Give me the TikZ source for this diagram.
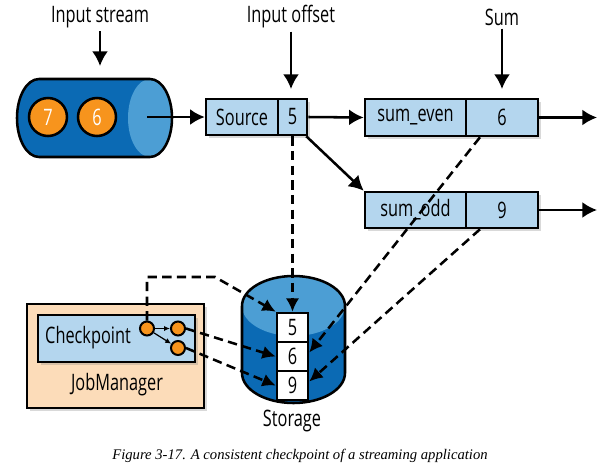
\documentclass[tikz,border=0pt]{standalone}
\usepackage{fontspec}
\setmainfont{Open Sans}[FakeStretch=0.72]
\newfontfamily\capfont{Liberation Serif}
\usetikzlibrary{arrows.meta,shadows,calc}
\definecolor{dblue}{HTML}{0B6AB4}
\definecolor{lblue}{HTML}{4C9ED4}
\definecolor{boxblue}{HTML}{B4D6EE}
\definecolor{orng}{HTML}{F7941D}
\definecolor{peach}{HTML}{FCDCB9}
\begin{document}
\begin{tikzpicture}[x=0.75pt,y=-0.75pt,
  txt/.style={font=\fontsize{17}{20}\selectfont, inner sep=0pt},
  shd/.style={drop shadow={shadow xshift=2pt, shadow yshift=-2pt, opacity=0.3}},
  bx/.style={draw=black, line width=1.9pt, fill=boxblue, inner sep=0pt, font=\fontsize{17}{20}\selectfont, shd},
  stk/.style={draw=black, line width=1.9pt, fill=white, inner sep=0pt, font=\fontsize{17}{20}\selectfont, minimum width=23.25pt, minimum height=21.75pt},
  ball/.style={circle, draw=black, line width=1.9pt, fill=orng, inner sep=0pt, minimum size=28.5pt, text=white, font=\fontsize{17}{20}\selectfont},
  dot/.style={circle, draw=black, line width=1.5pt, fill=orng, inner sep=0pt, minimum size=10.5pt},
  arr/.style={line width=1.9pt, -{Latex[length=11pt,width=12pt]}},
  darr/.style={line width=1.9pt, dash pattern=on 7pt off 4pt, -{Latex[length=10pt,width=10pt]}},
  small/.style={line width=0.9pt, -{Latex[length=4.5pt,width=4pt]}}
]
\useasboundingbox (0,0) rectangle (601,465);

% labels
\node[txt] (lstream) at (100,17) {Input stream};
\node[txt] (loffset) at (291,17) {Input offset};
\node[txt] (lsum) at (502,17) {Sum};
\coordinate (tstream) at (100,66);
\coordinate (toffset) at (291,89);
\coordinate (tsum) at (502,89);
\draw[arr] ($(lstream.south)+(0,3)$) -- (tstream);
\draw[arr] ($(loffset.south)+(0,3)$) -- (toffset);
\draw[arr] ($(lsum.south)+(0,3)$) -- (tsum);

% input stream cylinder
\fill[dblue] (39,79) -- (150,79) -- (150,157) -- (39,157) arc[start angle=90, end angle=270, x radius=22, y radius=39] -- cycle;
\fill[lblue] (150,118) ellipse[x radius=22, y radius=39];
\draw[line width=1.9pt] (39,79) -- (150,79) arc[start angle=-90, end angle=90, x radius=22, y radius=39] -- (39,157) arc[start angle=90, end angle=270, x radius=22, y radius=39] -- cycle;
\node[ball] (b7) at (48,117) {7};
\node[ball] (b6) at (97,117) {6};
\coordinate (cylout) at (147,117);

% operator boxes
\node[bx, minimum width=54pt, minimum height=27pt] (src) at (242,117) {Source};
\node[bx, minimum width=21.75pt, minimum height=27pt] (srcv) at (292.5,117) {5};
\node[bx, minimum width=75.75pt, minimum height=27.75pt] (even) at (415.5,117.5) {sum\_even};
\node[bx, minimum width=54pt, minimum height=27.75pt] (evenv) at (502,117.5) {6};
\node[bx, minimum width=75.75pt, minimum height=27pt] (odd) at (415.5,210) {sum\_odd};
\node[bx, minimum width=54pt, minimum height=27pt] (oddv) at (502,210) {9};
\coordinate (evenout) at (597,117.5);
\coordinate (oddout) at (597,210);

\draw[arr] (cylout) -- (src.west);
\draw[arr] (srcv.east) -- (even.west);
\draw[arr] (evenv.east) -- (evenout);
\draw[arr] (oddv.east) -- (oddout);
\draw[arr] ($(srcv.south east)+(-2,0)$) -- (odd.north west);

% storage cylinder
\fill[dblue] (242,306) arc[start angle=180, end angle=360, x radius=51.5, y radius=30] -- (345,373) arc[start angle=0, end angle=180, x radius=51.5, y radius=30] -- cycle;
\fill[lblue] (293.5,306) ellipse[x radius=51.5, y radius=30];
\draw[line width=1.9pt] (242,306) arc[start angle=180, end angle=360, x radius=51.5, y radius=30] -- (345,373) arc[start angle=0, end angle=180, x radius=51.5, y radius=30] -- cycle;
\node[stk] (s5) at (292.5,327.5) {5};
\node[stk] (s6) at (292.5,356.5) {6};
\node[stk] (s9) at (292.5,385.5) {9};
\node[txt] (lstorage) at (292,421) {Storage};

% job manager
\node[draw=black, line width=1.9pt, fill=peach, minimum width=132.75pt, minimum height=78pt, inner sep=0pt, shd] (jm) at (115.5,356) {};
\node[draw=black, line width=1.9pt, fill=boxblue, minimum width=117.75pt, minimum height=35.25pt, inner sep=0pt, shd] (cp) at (116.5,338.5) {};
\node[txt] (lcp) at (88,338) {Checkpoint};
\node[txt] (ljm) at (117,385) {JobManager};
\node[dot] (c1) at (147,328.5) {};
\node[dot] (c2) at (178,328.5) {};
\node[dot] (c3) at (178,348) {};
\draw[small] (c1) -- (c2);
\draw[small] (c1) -- (c3);

% checkpoint dashed arrows
\coordinate (bend) at (215,277);
\draw[darr] (c1.north) |- (bend) -- (s5.north west);
\draw[darr] (c2.east) -- (s6.west);
\draw[darr] (c3.east) -- (s9.west);
\draw[darr] (srcv.south) -- (s5.north);
\draw[darr] ($(evenv.south)+(-22,0)$) -- ($(s6.east)+(0,-4)$);
\draw[darr] ($(oddv.south)+(-22,0)$) -- ($(s9.east)+(0,-4)$);

% caption
\node[inner sep=0pt, font=\capfont\itshape\fontsize{11}{13}\selectfont] (cap) at (300,456) {Figure 3-17. A consistent checkpoint of a streaming application};
\end{tikzpicture}
\end{document}
